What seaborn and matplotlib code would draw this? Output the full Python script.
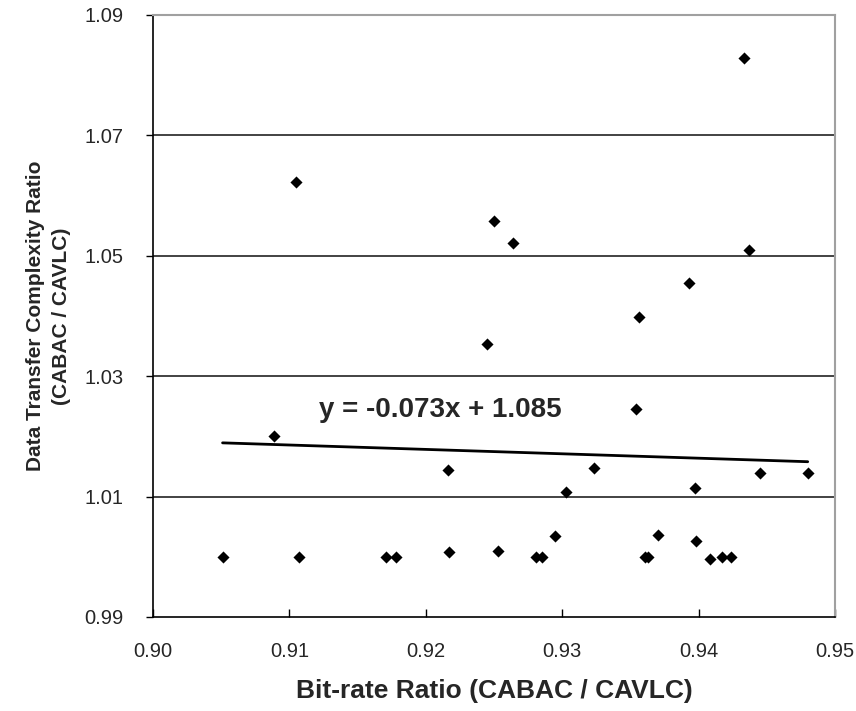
import matplotlib
matplotlib.use("Agg")
import matplotlib.pyplot as plt
import seaborn as sns
import numpy as np
import pandas as pd

# Data
bit_rate_ratio = [0.9433, 0.9105, 0.9250, 0.9264, 0.9437, 0.9393, 0.9356, 0.9245,
                  0.9354, 0.9089, 0.9216, 0.9323, 0.9303, 0.9397, 0.9445, 0.9480,
                  0.9051, 0.9107, 0.9171, 0.9178, 0.9217, 0.9253, 0.9281, 0.9285,
                  0.9295, 0.9361, 0.9363, 0.9370, 0.9398, 0.9408, 0.9417, 0.9424]
complexity_ratio = [1.0829, 1.0622, 1.0557, 1.0521, 1.0510, 1.0455, 1.0398, 1.0354,
                    1.0246, 1.0200, 1.0144, 1.0147, 1.0107, 1.0115, 1.0140, 1.0140,
                    1.0000, 1.0000, 1.0000, 1.0000, 1.0008, 1.0010, 1.0000, 1.0000,
                    1.0035, 1.0000, 1.0000, 1.0037, 1.0026, 0.9997, 1.0000, 1.0000]
trend_slope = -0.073
trend_intercept = 1.085
trend_label = "y = -0.073x + 1.085"
x_ticks = [0.90, 0.91, 0.92, 0.93, 0.94, 0.95]
y_ticks = [0.99, 1.01, 1.03, 1.05, 1.07, 1.09]
x_label = "Bit-rate Ratio (CABAC / CAVLC)"
y_label = "Data Transfer Complexity Ratio\n(CABAC / CAVLC)"

sns.set_theme(style="white")
plt.rcParams['font.family'] = ['Liberation Sans', 'DejaVu Sans']

df = pd.DataFrame({"x": bit_rate_ratio, "y": complexity_ratio})
xs = np.array([min(bit_rate_ratio), max(bit_rate_ratio)])
trend = pd.DataFrame({"x": xs, "y": trend_slope * xs + trend_intercept})

fig = plt.figure(figsize=(8.56, 7.11), dpi=100)
ax = fig.add_axes([153/856, 1 - 617/711, (835-153)/856, (617-15)/711])

ax.set_xlim(0.90, 0.95)
ax.set_ylim(0.99, 1.09)
ax.set_xticks(x_ticks)
ax.set_yticks(y_ticks)
ax.set_xticklabels([f"{v:.2f}" for v in x_ticks])
ax.set_yticklabels([f"{v:.2f}" for v in y_ticks])

ax.grid(False)
for yv in y_ticks[1:-1]:
    ax.axhline(yv, color="#222222", lw=1.2, zorder=1)

sns.lineplot(data=trend, x="x", y="y", ax=ax, color="black", lw=2, zorder=2)
sns.scatterplot(data=df, x="x", y="y", ax=ax, marker="D", s=38, color="black",
                edgecolor="black", linewidth=0, zorder=3)

ax.text(0.9122, 1.0244, trend_label, fontsize=20, fontweight="bold",
        ha="left", va="center")

for s in ["left", "bottom"]:
    ax.spines[s].set_color("black")
    ax.spines[s].set_linewidth(1.2)
for s in ["top", "right"]:
    ax.spines[s].set_color("#a0a0a0")
    ax.spines[s].set_linewidth(1.5)

ax.tick_params(axis="x", direction="in", length=6, width=1, color="black",
               labelsize=14.5, pad=18)
ax.tick_params(axis="y", direction="out", length=5, width=1, color="black",
               labelsize=14.5, pad=16, left=True)
ax.tick_params(axis="x", bottom=True)

ax.set_xlabel(x_label, fontsize=19, fontweight="bold", labelpad=13)
ax.set_ylabel(y_label, fontsize=15, fontweight="bold", labelpad=10,
              linespacing=1.45)

fig.savefig("out.png", dpi=100)
